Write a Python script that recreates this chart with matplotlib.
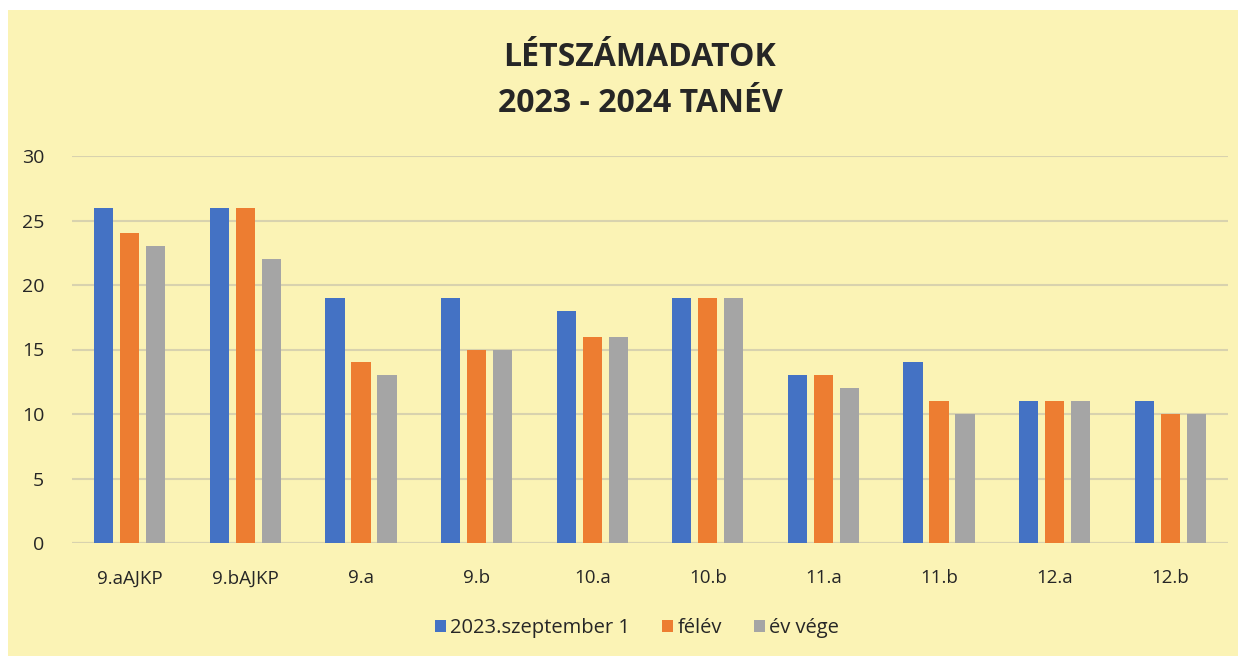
import numpy as np
import matplotlib
matplotlib.use('Agg')
import matplotlib.pyplot as plt
from matplotlib.patches import Rectangle

categories = ['9.aAJKP', '9.bAJKP', '9.a', '9.b', '10.a', '10.b', '11.a', '11.b', '12.a', '12.b']
szept = [26, 26, 19, 19, 18, 19, 13, 14, 11, 11]
felev = [24, 26, 14, 15, 16, 19, 13, 11, 11, 10]
ev_vege = [23, 22, 13, 15, 16, 19, 12, 10, 11, 10]
series_names = ['2023.szeptember 1', 'félév', 'év vége']
colors = ['#4472c4', '#ed7d31', '#a5a5a5']

plt.rcParams['font.family'] = ['Open Sans', 'DejaVu Sans']

W, H = 1244, 656
fig = plt.figure(figsize=(W / 100, H / 100), dpi=100)
fig.patch.set_facecolor('white')
# yellow paper background, behind everything
fig.patches.append(Rectangle((8 / W, 0), (1238 - 8) / W, (H - 10) / H,
                             transform=fig.transFigure, facecolor='#fbf3b5',
                             edgecolor='none', zorder=-10))

ax = fig.add_axes([72 / W, 1 - 543 / H, (1228 - 72) / W, (543 - 156) / H])
ax.set_facecolor('none')

x = np.arange(len(categories))
width = 0.165
step = 0.225
for i, (vals, name, c) in enumerate(zip([szept, felev, ev_vege], series_names, colors)):
    ax.bar(x + (i - 1) * step, vals, width, color=c, label=name, zorder=3)

ax.set_xlim(-0.5, len(categories) - 0.5)
ax.set_ylim(0, 30)
ax.set_yticks(range(0, 31, 5))
ax.yaxis.grid(True, color='#d8d2ae', linewidth=1.5, zorder=0)
ax.set_axisbelow(True)
for s in ax.spines.values():
    s.set_visible(False)
ax.tick_params(length=0, labelsize=13.5, colors='#262626')
ax.tick_params(axis='y', pad=20, labelsize=14)
ax.tick_params(axis='x', pad=19)
ax.set_xticks(x)
ax.set_xticklabels(categories)
ax.axhline(0, color='#d8d2ae', linewidth=1.5, zorder=1)

fig.text(640 / W, 1 - 57 / H, 'LÉTSZÁMADATOK', ha='center', va='center',
         fontsize=23, fontweight='bold', color='#262626')
fig.text(640 / W, 1 - 103 / H, '2023 - 2024 TANÉV', ha='center', va='center',
         fontsize=23, fontweight='bold', color='#262626')

leg = ax.legend(loc='center', bbox_to_anchor=(637 / W, 1 - 628 / H),
                bbox_transform=fig.transFigure, ncol=3, frameon=False,
                fontsize=14.5, handlelength=0.55, handleheight=0.55,
                handletextpad=0.2, columnspacing=1.6)
for t in leg.get_texts():
    t.set_color('#262626')

fig.savefig('out.png', dpi=100)
